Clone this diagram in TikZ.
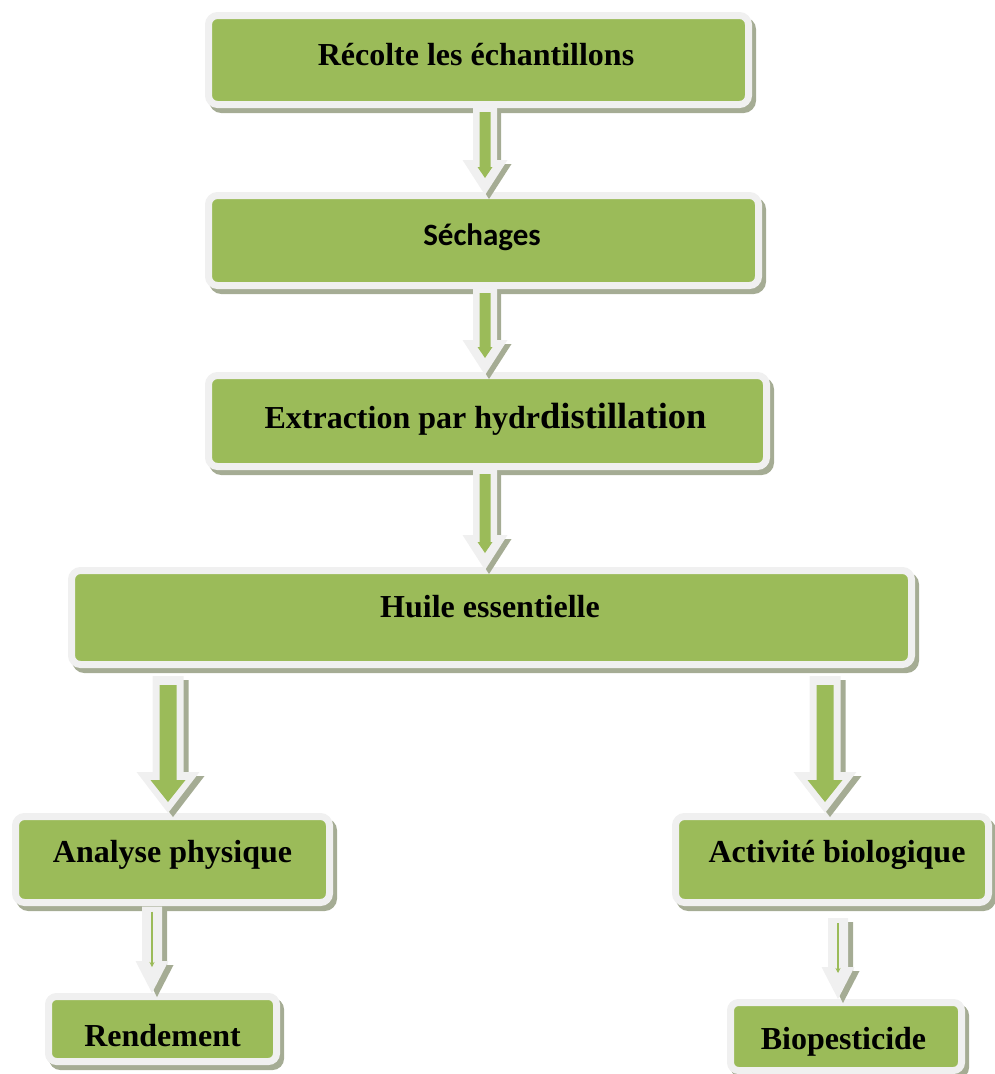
\documentclass[tikz,border=0pt]{standalone}
\usepackage{fontspec}
\setmainfont{Liberation Serif}
\newfontfamily\calib{Carlito}
\usetikzlibrary{calc,arrows.meta}
\definecolor{boxgreen}{RGB}{155,187,89}
\definecolor{framec}{RGB}{240,240,240}
\definecolor{shadowc}{RGB}{165,172,148}

\newcommand\arrowpoly[6]{%
  \fill[#1] let \p1=(#2), \p2=(#3) in
   ({\x2-#4},\y1) -- ({\x2+#4},\y1) -- ({\x2+#4},{\y2+#6}) -- ({\x2+#5},{\y2+#6})
   -- (\x2,\y2) -- ({\x2-#5},{\y2+#6}) -- ({\x2-#4},{\y2+#6}) -- cycle;}

% top arrows: from, to, x
\newcommand\toparrow[3]{%
  \path let \p1=(#1.south), \p2=(#2.north) in
    coordinate (aT) at (#3pt,{\y1+1pt}) coordinate (aE) at (#3pt,{\y2-3pt});
  \arrowpoly{shadowc,transform canvas={xshift=4pt,yshift=-4pt}}{aT}{aE}{12pt}{22.5pt}{35pt}
  \arrowpoly{framec}{aT}{aE}{12pt}{22.5pt}{35pt}
  \arrowpoly{boxgreen}{$(aT)+(0pt,-5pt)$}{$(aE)+(0pt,17pt)$}{5.5pt}{7.5pt}{11pt}
}
% big arrows: from, to, x
\newcommand\bigarrow[3]{%
  \path let \p1=(#1.south), \p2=(#2.north) in
    coordinate (aT) at (#3pt,{\y1-8pt}) coordinate (aE) at (#3pt,\y2);
  \arrowpoly{shadowc,transform canvas={xshift=5pt,yshift=-4pt}}{aT}{aE}{15.5pt}{31.5pt}{41pt}
  \arrowpoly{framec}{aT}{aE}{15.5pt}{31.5pt}{41pt}
  \arrowpoly{boxgreen}{$(aT)+(0pt,-9pt)$}{$(aE)+(0pt,11pt)$}{8.5pt}{17.5pt}{22pt}
}
% small arrows: from, to, x, drop of the top
\newcommand\smallarrow[4]{%
  \path let \p1=(#1.south), \p2=(#2.north) in
    coordinate (aT) at (#3pt,{\y1-#4}) coordinate (aE) at (#3pt,\y2);
  \arrowpoly{shadowc,transform canvas={xshift=5pt,yshift=-4pt}}{aT}{aE}{10pt}{16.5pt}{32pt}
  \arrowpoly{framec}{aT}{aE}{10pt}{16.5pt}{32pt}
  \draw[boxgreen, line width=1.3pt, -{Stealth[length=5pt,width=5pt]}]
    ($(aT)+(0pt,-5pt)$) -- ($(aE)+(0pt,26pt)$);
}

\tikzset{
  box/.style={draw=framec, fill=boxgreen, line width=7pt, rounded corners=9pt, inner sep=0pt,
    preaction={draw=shadowc, fill=shadowc, line width=7pt,
      transform canvas={xshift=4pt,yshift=-5pt}}},
  lbl/.style={anchor=base, inner sep=0pt, font=\bfseries\fontsize{32}{38}\selectfont},
}

\begin{document}
\begin{tikzpicture}[x=1pt,y=-1pt]
\useasboundingbox (0,0) rectangle (994,1074);

% boxes
\node[box, minimum width=540pt, minimum height=89pt] (b1) at (478.5,60) {};
\node[box, minimum width=550pt, minimum height=90pt] (b2) at (483.5,240.5) {};
\node[box, minimum width=558pt, minimum height=91pt] (b3) at (487.5,421) {};
\node[box, minimum width=840pt, minimum height=94pt] (b4) at (491.5,617.5) {};
\node[box, minimum width=314pt, minimum height=86pt] (b5) at (172.5,859.5) {};
\node[box, minimum width=313pt, minimum height=86pt] (b6) at (832,859.5) {};
\node[box, minimum width=228pt, minimum height=65pt, rounded corners=8pt] (b7) at (162.5,1029) {};
\node[box, minimum width=231pt, minimum height=68pt, rounded corners=8pt] (b8) at (846,1036.5) {};

% texts
\node[lbl] (t1) at (476,65) {Récolte les échantillons};
\node[lbl, font=\calib\bfseries\fontsize{31}{37}\selectfont] (t2) at (482,245) {Séchages};
\node[lbl] (t3) at (485.5,428) {Extraction par hydr{\fontsize{36.5}{40}\selectfont distillation}};
\node[lbl] (t4) at (490,617) {Huile essentielle};
\node[lbl] (t5) at (172.5,862) {Analyse physique};
\node[lbl] (t6) at (837,862) {Activité biologique};
\node[lbl] (t7) at (162.5,1046) {Rendement};
\node[lbl] (t8) at (843.5,1049) {Biopesticide};

% arrows
\toparrow{b1}{b2}{485}
\toparrow{b2}{b3}{485}
\toparrow{b3}{b4}{485}
\bigarrow{b4}{b5}{168}
\bigarrow{b4}{b6}{825}
\smallarrow{b5}{b7}{152}{0.5pt}
\smallarrow{b6}{b8}{838}{12pt}
\end{tikzpicture}
\end{document}
